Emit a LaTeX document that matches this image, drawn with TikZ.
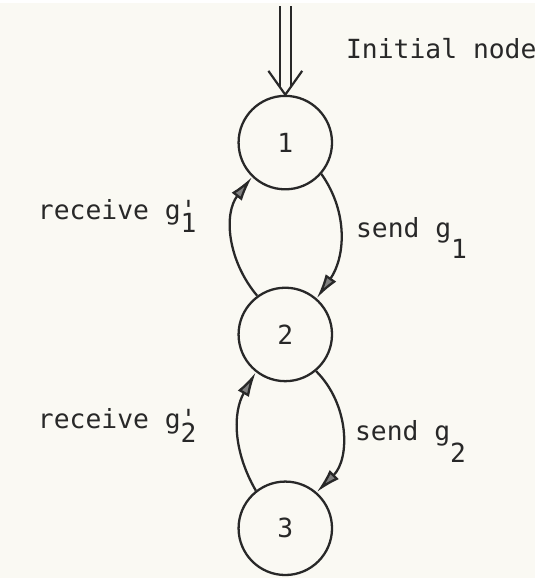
\documentclass[tikz,border=0pt]{standalone}
\usepackage{fontspec}
\setmonofont{DejaVu Sans Mono}
\usetikzlibrary{arrows.meta}

\definecolor{paper}{RGB}{250,249,243}
\definecolor{ink}{RGB}{40,40,40}

% lowered subscript, typewriter style
\newcommand{\lo}[2]{\raisebox{-#1pt}{#2}}

\tikzset{
  every node/.style={font=\ttfamily\fontsize{26.5}{30}\selectfont,text=ink},
  state/.style={circle,draw=ink,line width=2.3pt,minimum size=94pt,inner sep=0pt},
  lbl/.style={anchor=base west,inner sep=0pt},
  trans/.style={draw=ink,line width=2.3pt,-{Latex[length=25pt,width=13pt,fill=black!50]}},
  init/.style={draw=ink,line width=2.2pt,double=paper,double distance=8.5pt},
  vee/.style={draw=ink,line width=2.2pt,line join=miter}
}

\begin{document}
\begin{tikzpicture}[x=1pt,y=1pt]
      \fill [paper] (0,0) rectangle (538,578);

      \node [state] (n1) at (287,438) {1};
      \node [state] (n2) at (287,245) {2};
      \node [state] (n3) at (287,50) {3};

      \coordinate (top) at (287,575);
      \draw [init] (top) -- ([yshift=8pt]n1.north);
      \draw [vee] ([shift={(-17,24)}]n1.north) -- (n1.north) -- ([shift={(17,24)}]n1.north);

      \node [lbl] (init) at (348,523) {Initial node};
      \node [lbl] (r1) at (38,361) {receive g\rlap{'}\lo{13}{1}};
      \node [lbl] (s1) at (358,343) {send g\lo{22}{1}};
      \node [lbl] (r2) at (38,150) {receive g\rlap{'}\lo{14}{2}};
      \node [lbl] (s2) at (357,138) {send g\lo{22}{2}};

      \foreach \from/\to/\angout/\angin in {n2.126/n1.226/130/232, n1.319/n2.49/-55/55,
          n3.128/n2.232/120/240, n2.310/n3.49/-45/45}
        \draw [trans] (\from) to[out=\angout,in=\angin] (\to);
\end{tikzpicture}
\end{document}
